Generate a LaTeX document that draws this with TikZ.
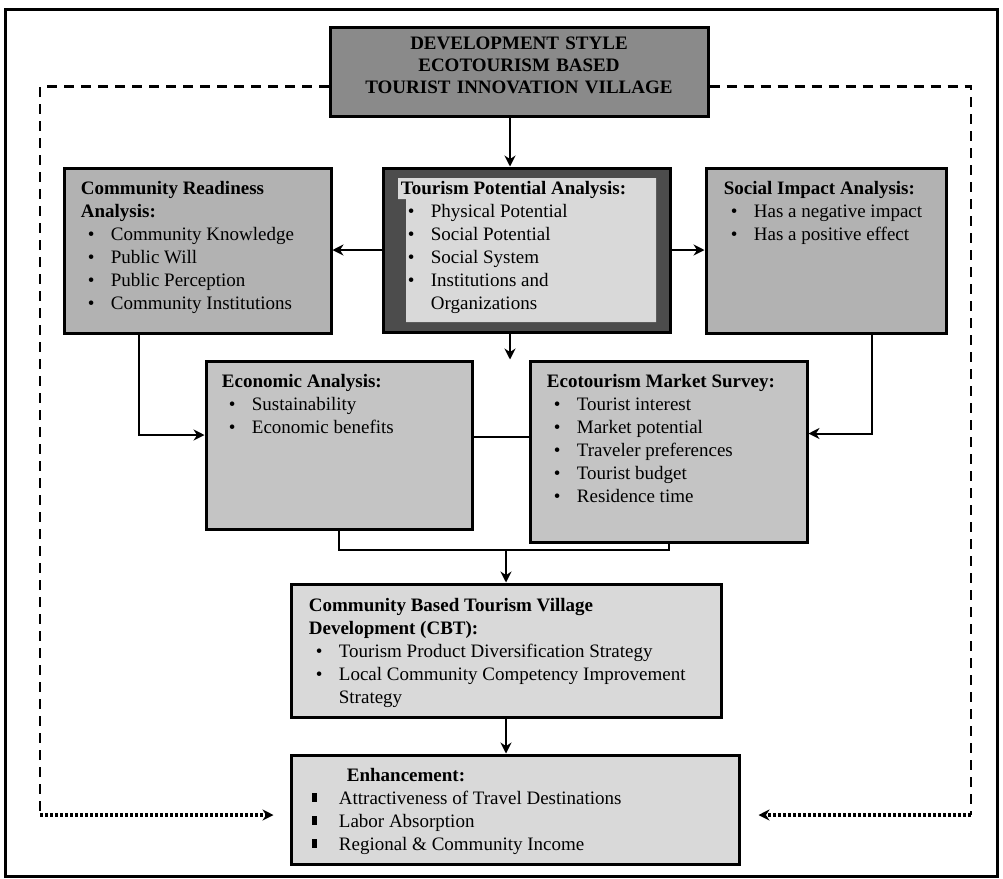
\documentclass[tikz,border=0pt]{standalone}
\usepackage{fontspec}
\setmainfont{Liberation Serif}
\usetikzlibrary{arrows.meta,fit,calc}

% list lines inside the boxes
\newcommand{\itm}[1]{\hspace*{3.5pt}\makebox[11.5pt][l]{\textbullet}#1}
\newcommand{\itmcont}[1]{\hspace*{15pt}#1}
\newcommand{\sqitm}[1]{\hspace*{1.5pt}\makebox[13.5pt][l]{\rule[1.2pt]{2.4pt}{4.4pt}}#1}

\begin{document}
\begin{tikzpicture}[
    x=0.5pt, y=-0.5pt,
    >={Stealth[length=5.5pt,width=5.5pt]},
    box/.style={draw, line width=1.5pt, inner sep=0pt},
    txt/.style={anchor=north west, inner sep=0pt, align=left,
      font=\fontsize{9.5}{11.5}\selectfont},
    link/.style={line width=1pt},
    dashlink/.style={line width=1.4pt, dash pattern=on 5pt off 3.5pt},
    dotlink/.style={line width=2pt, dash pattern=on 1.3pt off 1.2pt, ->}
  ]
  \useasboundingbox (0,0) rectangle (1003,879);

  %% outer frame
  \draw[line width=1.5pt] (5,9) rectangle (997,876);

  %% ---- top box ----
  \node[box, fill=black!46, fit={(330,27) (708,116)}, align=center,
    font=\fontsize{9.5}{11}\selectfont\bfseries] (style)
    {DEVELOPMENT STYLE\\ ECOTOURISM BASED\\ TOURIST INNOVATION VILLAGE};

  %% ---- first row ----
  \node[box, fill=black!30, fit={(64,168) (331,333)}] (readiness) {};
  \node[txt] (readiness-txt) at ([xshift=9pt,yshift=-7pt]readiness.north west)
    {\textbf{Community Readiness}\\ \textbf{Analysis:}\\
     \itm{Community Knowledge}\\ \itm{Public Will}\\
     \itm{Public Perception}\\ \itm{Community Institutions}};

  \node[box, fill=black!70, fit={(383,168) (670,332)}] (potential) {};
  \fill[black!15] (398,178) -- (656,178) -- (656,322) -- (406,322)
    -- (406,199) -- (398,199) -- cycle;
  \node[txt] (potential-txt) at ([xshift=9.5pt,yshift=-7pt]potential.north west)
    {\textbf{Tourism Potential Analysis:}\\
     \itm{Physical Potential}\\ \itm{Social Potential}\\
     \itm{Social System}\\ \itm{Institutions and}\\ \itmcont{Organizations}};

  \node[box, fill=black!30, fit={(706,168) (946,333)}] (impact) {};
  \node[txt] (impact-txt) at ([xshift=9.5pt,yshift=-7pt]impact.north west)
    {\textbf{Social Impact Analysis:}\\
     \itm{Has a negative impact}\\ \itm{Has a positive effect}};

  %% ---- second row ----
  \node[box, fill=black!23, fit={(206,361) (472,529)}] (economic) {};
  \node[txt] (economic-txt) at ([xshift=8.5pt,yshift=-7pt]economic.north west)
    {\textbf{Economic Analysis:}\\
     \itm{Sustainability}\\ \itm{Economic benefits}};

  \node[box, fill=black!23, fit={(530,361) (807,542)}] (market) {};
  \node[txt] (market-txt) at ([xshift=9pt,yshift=-7pt]market.north west)
    {\textbf{Ecotourism Market Survey:}\\
     \itm{Tourist interest}\\ \itm{Market potential}\\
     \itm{Traveler preferences}\\ \itm{Tourist budget}\\ \itm{Residence time}};

  %% ---- CBT and enhancement ----
  \node[box, fill=black!15, fit={(291,584) (721,717)}] (cbt) {};
  \node[txt] (cbt-txt) at ([xshift=9.5pt,yshift=-7.5pt]cbt.north west)
    {\textbf{Community Based Tourism Village}\\ \textbf{Development (CBT):}\\
     \itm{Tourism Product Diversification Strategy}\\
     \itm{Local Community Competency Improvement}\\ \itmcont{Strategy}};

  \node[box, fill=black!15, fit={(291,755) (739,864)}] (enhance) {};
  \node[txt] (enhance-txt) at ([xshift=9.5pt,yshift=-7pt]enhance.north west)
    {\hspace*{19pt}\textbf{Enhancement:}\\
     \sqitm{Attractiveness of Travel Destinations}\\
     \sqitm{Labor Absorption}\\ \sqitm{Regional \& Community Income}};

  %% helper points
  \coordinate (spine) at (510,0);
  \coordinate (join) at (506,550);
  \coordinate (cl) at (40,815);
  \coordinate (cr) at (971,815);

  %% connectors
  \draw[link,->] (style.south -| spine) -- (potential.north -| spine);
  \draw[link,->] (potential.west) -- (potential.west -| readiness.east);
  \draw[link,->] (potential.east) -- (potential.east -| impact.west);
  \draw[link,->] (potential.south -| spine) -- (market.north -| spine);
  \draw[link,->] ([xshift=38pt]readiness.south west) |- ([yshift=5pt]economic.west);
  \draw[link,->] ([xshift=-38pt]impact.south east) |- ([yshift=9pt]market.east);
  \draw[link] ([yshift=4pt]economic.east) -- ([yshift=4pt]economic.east -| market.west);
  \draw[link] (economic.south) |- (join) -| (market.south);
  \draw[link,->] (join) -- (join |- cbt.north);
  \draw[link,->] (cbt.south) -- (cbt.south |- enhance.north);

  %% feedback lines
  \draw[dashlink] ([yshift=-7.5pt]style.west) -| (cl);
  \draw[dashlink] ([yshift=-7.5pt]style.east) -| (cr);
  \draw[dotlink, shorten >=8pt] (cl) -- (cl -| enhance.west);
  \draw[dotlink, shorten >=9pt] (cr) -- (cr -| enhance.east);

\end{tikzpicture}
\end{document}
